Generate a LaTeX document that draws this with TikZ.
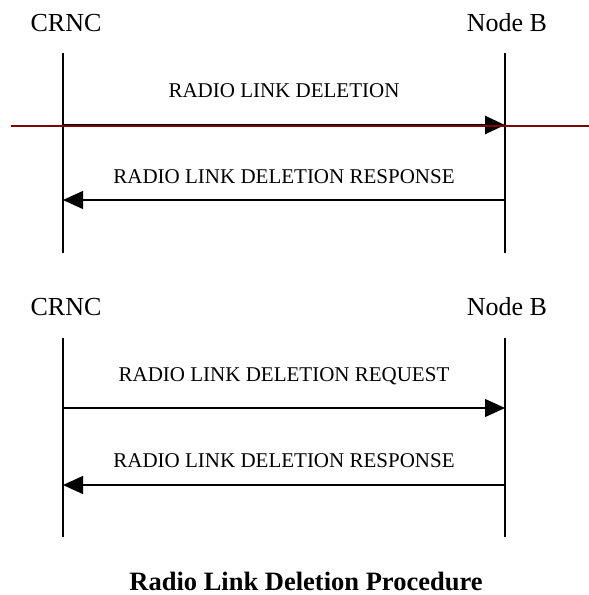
\documentclass[tikz,border=0pt]{standalone}
\usepackage{fontspec}
\setmainfont{Liberation Serif}
\usetikzlibrary{arrows.meta}
\definecolor{darkred}{RGB}{128,0,0}
\tikzset{
  ent/.style={anchor=base, inner sep=0pt, font=\fontsize{26}{26}\selectfont},
  msg/.style={anchor=base, inner sep=0pt, font=\fontsize{21}{21}\selectfont},
  captiontext/.style={anchor=base, inner sep=0pt, text depth=0pt, font=\fontsize{26.5}{26.5}\selectfont\bfseries},
  life/.style={line width=1.3pt, black},
  arr/.style={line width=1.3pt, -{Triangle[length=20pt,width=18pt]}},
  thickarr/.style={line width=2.7pt, -{Triangle[length=20pt,width=18pt]}},
  redline/.style={line width=1.4pt, darkred},
}
\begin{document}
\begin{tikzpicture}[x=1pt,y=-1pt]
\useasboundingbox (0,0) rectangle (589,595);
% ---- first chart ----
\node[ent] (crnc1) at (66,31.6) {CRNC};
\node[ent] (nodeb1) at (507,31.6) {Node B};
\coordinate (l1t) at (63,53);
\coordinate (l1b) at (63,253);
\coordinate (r1t) at (505,53);
\coordinate (r1b) at (505,253);
\draw[life] (l1t) -- (l1b);
\draw[life] (r1t) -- (r1b);
\node[msg] (m1) at (284,97) {RADIO LINK DELETION};
\coordinate (a1s) at (63,125);
\coordinate (a1e) at (505,125);
\draw[thickarr] (a1s) -- (a1e);
\coordinate (red1) at (11,126);
\coordinate (red2) at (589,126);
\draw[redline] (red1) -- (red2);
\node[msg] (m2) at (284,183) {RADIO LINK DELETION RESPONSE};
\coordinate (a2s) at (505,200);
\coordinate (a2e) at (63,200);
\draw[arr] (a2s) -- (a2e);
% ---- second chart ----
\node[ent] (crnc2) at (66,315.6) {CRNC};
\node[ent] (nodeb2) at (507,315.6) {Node B};
\coordinate (l2t) at (63,338);
\coordinate (l2b) at (63,537);
\coordinate (r2t) at (505,338);
\coordinate (r2b) at (505,537);
\draw[life] (l2t) -- (l2b);
\draw[life] (r2t) -- (r2b);
\node[msg] (m3) at (284,381) {RADIO LINK DELETION REQUEST};
\coordinate (a3s) at (63,408);
\coordinate (a3e) at (505,408);
\draw[arr] (a3s) -- (a3e);
\node[msg] (m4) at (284,467) {RADIO LINK DELETION RESPONSE};
\coordinate (a4s) at (505,485);
\coordinate (a4e) at (63,485);
\draw[arr] (a4s) -- (a4e);
% ---- caption ----
\node[captiontext] (caption) at (306,590) {Radio Link Deletion Procedure};
\end{tikzpicture}
\end{document}
